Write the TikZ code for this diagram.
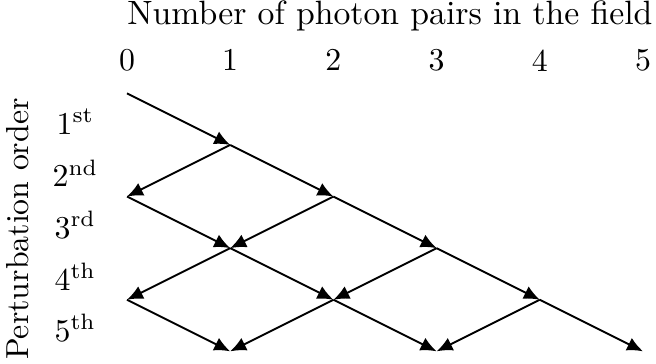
\documentclass[tikz,border=0pt]{standalone}
\usepackage{amsmath,amssymb}
\usepackage{tikz}
\usetikzlibrary{arrows.meta, positioning}

\begin{document}
\begin{tikzpicture}[
    x=1.14cm, y=-0.57cm,
    lbl/.style={inner sep=1pt},
    arrow/.style={-{Latex[length=5pt, width=4.4pt]}, semithick}
]
\useasboundingbox (-1.2306,-1.809) rectangle (5.126,5.233);
% axis labels
\node (title) [lbl, font=\fontsize{10.6}{12.7}\selectfont] at (2.548,-1.5) {Number of photon pairs in the field};
\node (yaxis) [lbl, rotate=90] at (-1.056,2.63) {Perturbation order};
\foreach \k in {0,...,5}
    \node (col\k) [lbl] at (\k,-0.64) {\k};
\node (ord1) [lbl] at (-0.5,0.55) {1\textsuperscript{st}};
\node (ord2) [lbl] at (-0.5,1.55) {2\textsuperscript{nd}};
\node (ord3) [lbl] at (-0.5,2.55) {3\textsuperscript{rd}};
\node (ord4) [lbl] at (-0.5,3.55) {4\textsuperscript{th}};
\node (ord5) [lbl] at (-0.5,4.55) {5\textsuperscript{th}};
% lattice points
\foreach \j in {0,...,5}
    \foreach \k in {0,...,\j}
        \coordinate (p\k-\j) at (\k,\j);
% transitions
\draw [arrow] (p0-0) -- (p1-1);
\draw [arrow] (p1-1) -- (p0-2);
\draw [arrow] (p1-1) -- (p2-2);
\draw [arrow] (p0-2) -- (p1-3);
\draw [arrow] (p2-2) -- (p1-3);
\draw [arrow] (p2-2) -- (p3-3);
\draw [arrow] (p1-3) -- (p0-4);
\draw [arrow] (p1-3) -- (p2-4);
\draw [arrow] (p3-3) -- (p2-4);
\draw [arrow] (p3-3) -- (p4-4);
\draw [arrow] (p0-4) -- (p1-5);
\draw [arrow] (p2-4) -- (p1-5);
\draw [arrow] (p2-4) -- (p3-5);
\draw [arrow] (p4-4) -- (p3-5);
\draw [arrow] (p4-4) -- (p5-5);
\end{tikzpicture}
\end{document}
